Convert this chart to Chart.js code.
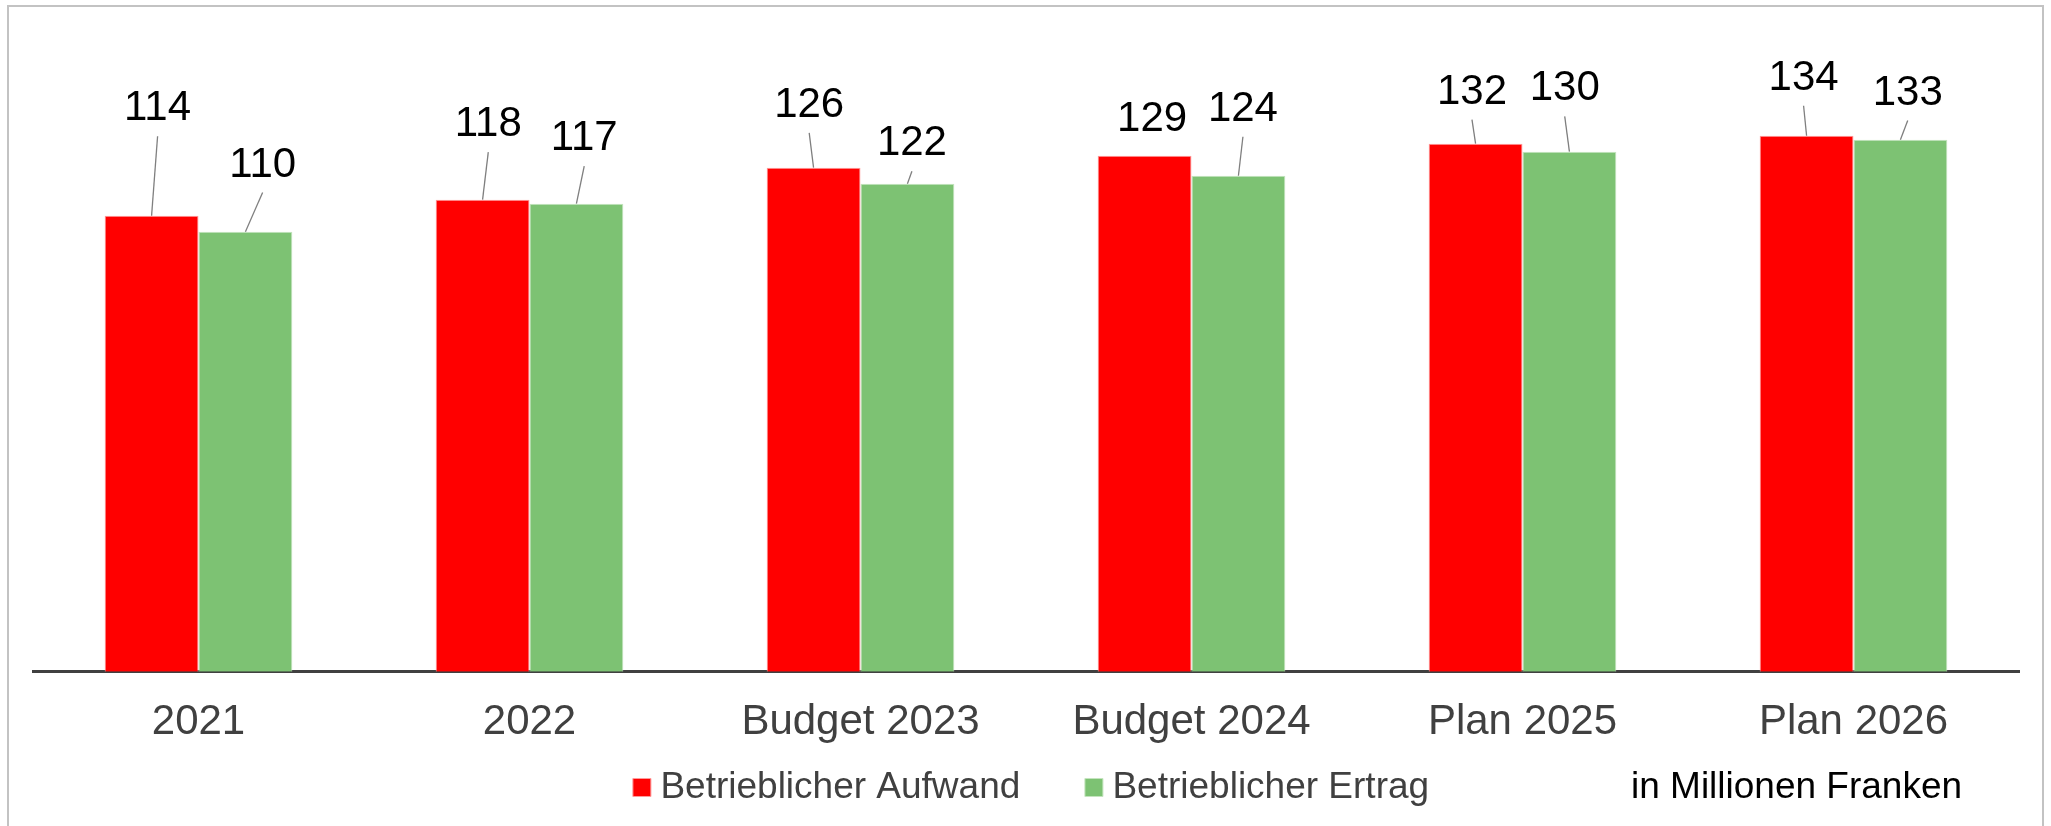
<!DOCTYPE html>
<html>
<head>
<meta charset="utf-8">
<script src="https://cdn.jsdelivr.net/npm/chart.js@4.4.1/dist/chart.umd.min.js"></script>
<style>
html,body{margin:0;padding:0;background:#fff;overflow:hidden;}
#wrap{position:relative;width:2051px;height:826px;}
#frame{position:absolute;left:7px;top:5px;width:2037px;height:860px;box-sizing:border-box;border:2px solid #c3c3c3;pointer-events:none;}
canvas{position:absolute;left:0;top:0;}
</style>
</head>
<body>
<div id="wrap"><canvas id="c" width="2051" height="826"></canvas><div id="frame"></div></div>
<script>
// ---- data ----
const categories = ['2021', '2022', 'Budget 2023', 'Budget 2024', 'Plan 2025', 'Plan 2026'];
const seriesNames = ['Betrieblicher Aufwand', 'Betrieblicher Ertrag'];
const aufwand = [114, 118, 126, 129, 132, 134];
const ertrag = [110, 117, 122, 124, 130, 133];
const unitNote = 'in Millionen Franken';

// ---- style ----
const FONT = "'Liberation Sans', Arial, sans-serif";

// label placement (pixel offsets from each bar's top centre), styling only
const labelOffsets = [
  [[6, -107], [5.7, -75], [-4.4, -62.4], [7.5, -36.2], [-3.6, -51.5], [-3, -57.4]],
  [[17.2, -66.7], [7.8, -65], [4.5, -39.9], [4.5, -66.5], [-4.7, -62.9], [7.3, -46.7]]
];

const leaderLabels = {
  id: 'leaderLabels',
  afterDatasetsDraw(chart, args, opts) {
    const ctx = chart.ctx;
    ctx.save();
    ctx.font = opts.font;
    ctx.fillStyle = opts.color;
    ctx.textAlign = 'center';
    ctx.textBaseline = 'middle';
    ctx.strokeStyle = opts.lineColor;
    ctx.lineWidth = opts.lineWidth;
    chart.data.datasets.forEach((ds, di) => {
      const meta = chart.getDatasetMeta(di);
      meta.data.forEach((bar, i) => {
        const off = opts.offsets[di][i];
        const lx = bar.x + off[0];
        const ly = bar.y + off[1];
        const y1 = ly + opts.lineGap;
        if (bar.y - y1 > opts.minLine) {
          ctx.beginPath();
          ctx.moveTo(lx, y1);
          ctx.lineTo(bar.x, bar.y);
          ctx.stroke();
        }
        ctx.fillText(String(ds.data[i]), lx, ly);
      });
    });
    ctx.restore();
  }
};

const extras = {
  id: 'extras',
  afterLayout(chart, args, opts) {
    const lg = chart.legend;
    if (lg) { lg.left += opts.legendShift; lg.right += opts.legendShift; }
  },
  afterDraw(chart, args, opts) {
    const ctx = chart.ctx;
    ctx.save();
    ctx.font = opts.font;
    ctx.fillStyle = opts.color;
    ctx.textAlign = 'left';
    ctx.textBaseline = 'alphabetic';
    ctx.fillText(opts.text, opts.x, opts.y);
    ctx.restore();
  }
};

new Chart(document.getElementById('c'), {
  type: 'bar',
  data: {
    labels: categories,
    datasets: [
      {
        label: seriesNames[0], data: aufwand,
        backgroundColor: '#FF0000', borderColor: '#FF9A9A', borderWidth: 1,
        categoryPercentage: 0.567, barPercentage: 1
      },
      {
        label: seriesNames[1], data: ertrag,
        backgroundColor: '#7DC273', borderColor: '#C4E4BE', borderWidth: 1,
        categoryPercentage: 0.567, barPercentage: 1
      }
    ]
  },
  options: {
    responsive: false,
    animation: false,
    devicePixelRatio: 1,
    layout: { padding: { left: 33, right: 32, top: 31.7, bottom: 10 } },
    scales: {
      x: {
        grid: { display: false, drawTicks: false },
        border: { display: true, color: '#404040', width: 3 },
        ticks: { color: '#404040', font: { family: FONT, size: 42 }, mirror: true, padding: -76, maxRotation: 0, autoSkip: false },
        afterFit(scale) { scale.height = 23.7; }
      },
      y: { display: false, min: 0, max: 160 }
    },
    plugins: {
      tooltip: { enabled: false },
      legend: {
        position: 'bottom',
        labels: {
          usePointStyle: true, pointStyle: 'rect', boxWidth: 0.01, boxHeight: 18,
          padding: 73.6, color: '#404040', font: { family: FONT, size: 37 }
        }
      },
      leaderLabels: {
        offsets: labelOffsets, font: '42px ' + FONT, color: '#000000',
        lineColor: '#7f7f7f', lineWidth: 1.3, lineGap: 27.5, minLine: 10
      },
      extras: {
        legendShift: 9.5, text: unitNote, font: '37px ' + FONT, color: '#000000', x: 1631, y: 798
      }
    }
  },
  plugins: [leaderLabels, extras]
});
</script>
</body>
</html>
